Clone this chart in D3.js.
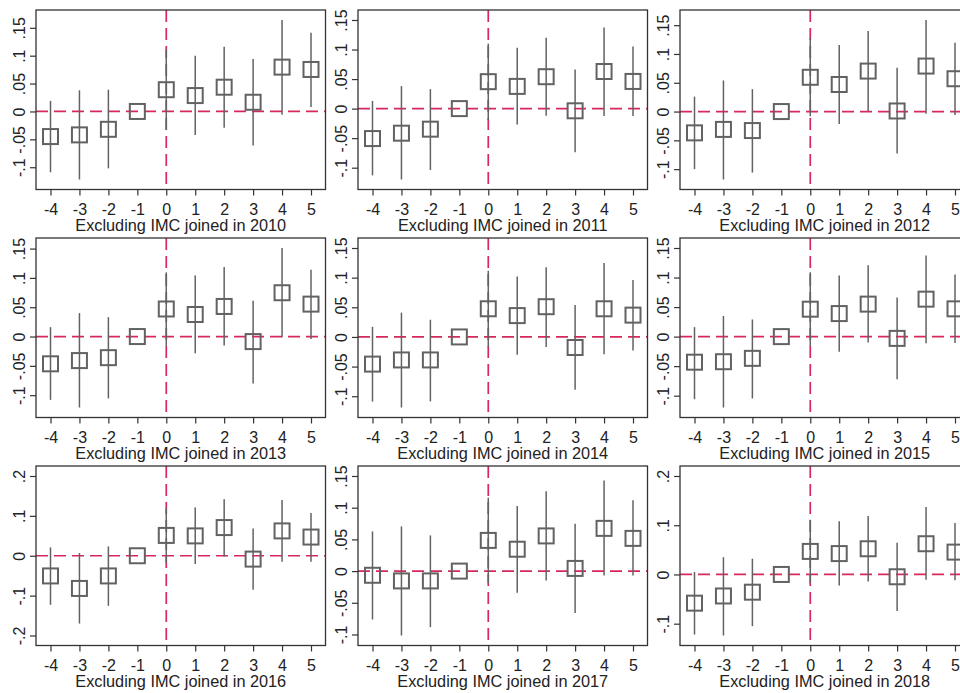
<!DOCTYPE html>
<html>
<head>
<meta charset="utf-8">
<script src="https://cdn.jsdelivr.net/npm/d3@7"></script>
<style>
body { margin: 0; background: #fff; }
svg { display: block; font-family: "Liberation Sans", Arial, sans-serif; }
</style>
</head>
<body>
<svg id="chart" width="960" height="693"></svg>
<script>
// event-time periods and the excluded cohort of each panel
const years = [2010, 2011, 2012, 2013, 2014, 2015, 2016, 2017, 2018]
const periods = [-4, -3, -2, -1, 0, 1, 2, 3, 4, 5]

// point estimates, one row per panel (period -1 is the reference = 0)
const coef = [
    [-0.045, -0.042, -0.032, 0, 0.039, 0.0285, 0.0435, 0.0165, 0.0795, 0.0753],
    [-0.0507, -0.0416, -0.0348, 0, 0.0456, 0.0376, 0.054, -0.0037, 0.0628, 0.046],
    [-0.037, -0.031, -0.033, 0, 0.0595, 0.047, 0.0703, 0.001, 0.079, 0.057],
    [-0.0465, -0.041, -0.036, 0, 0.047, 0.0376, 0.0513, -0.0086, 0.0747, 0.0553],
    [-0.0458, -0.0388, -0.0388, 0, 0.0475, 0.036, 0.051, -0.0178, 0.0475, 0.0368],
    [-0.0433, -0.0425, -0.0368, 0, 0.0464, 0.039, 0.055, -0.003, 0.0634, 0.047],
    [-0.0506, -0.082, -0.0506, 0, 0.051, 0.0498, 0.0707, -0.0084, 0.0623, 0.0469],
    [-0.0066, -0.0155, -0.0155, 0, 0.0484, 0.0345, 0.0555, 0.0042, 0.0674, 0.0516],
    [-0.0583, -0.0437, -0.036, 0, 0.0468, 0.0424, 0.0522, -0.0047, 0.0624, 0.0454]
]
// lower ends of the confidence intervals
const ciLow = [
    [-0.109, -0.122, -0.102, null, -0.033, -0.042, -0.029, -0.061, -0.006, 0.008],
    [-0.113, -0.120, -0.104, null, -0.019, -0.027, -0.012, -0.074, -0.0125, -0.0125],
    [-0.100, -0.118, -0.106, null, -0.008, -0.0216, 0.001, -0.073, -0.004, -0.006],
    [-0.108, -0.121, -0.1055, null, -0.016, -0.0285, -0.0154, -0.080, -0.001, -0.004],
    [-0.109, -0.119, -0.1087, null, -0.0165, -0.030, -0.017, -0.089, -0.029, -0.023],
    [-0.106, -0.120, -0.1047, null, -0.016, -0.0255, -0.010, -0.072, -0.0113, -0.011],
    [-0.123, -0.170, -0.1255, null, -0.017, -0.021, -0.002, -0.085, -0.015, -0.015],
    [-0.0763, -0.1016, -0.0884, null, -0.019, -0.034, -0.0147, -0.066, -0.0068, -0.0068],
    [-0.122, -0.124, -0.105, null, -0.017, -0.0224, -0.0142, -0.074, -0.011, -0.012]
]
// upper ends of the confidence intervals
const ciHigh = [
    [0.019, 0.038, 0.039, null, 0.111, 0.100, 0.116, 0.094, 0.164, 0.141],
    [0.013, 0.038, 0.033, null, 0.110, 0.103, 0.120, 0.066, 0.1375, 0.105],
    [0.026, 0.054, 0.039, null, 0.127, 0.1155, 0.140, 0.076, 0.159, 0.1197],
    [0.016, 0.040, 0.033, null, 0.1095, 0.104, 0.1186, 0.061, 0.151, 0.114],
    [0.017, 0.041, 0.029, null, 0.1115, 0.102, 0.1177, 0.054, 0.1245, 0.096],
    [0.016, 0.035, 0.029, null, 0.109, 0.1036, 0.1206, 0.066, 0.1375, 0.105],
    [0.021, 0.0067, 0.0234, null, 0.119, 0.121, 0.142, 0.0686, 0.140, 0.107],
    [0.0626, 0.0705, 0.0563, null, 0.1158, 0.1026, 0.1258, 0.0747, 0.143, 0.1116],
    [0.005, 0.035, 0.032, null, 0.111, 0.108, 0.1186, 0.0644, 0.137, 0.1044]
]

// y tick values per panel
const ticksA = [-0.1, -0.05, 0, 0.05, 0.1, 0.15]
const ticksB = [-0.2, -0.1, 0, 0.1, 0.2]
const ticksC = [-0.1, 0, 0.1, 0.2]
const yTicks = [ticksA, ticksA, ticksA, ticksA, ticksA, ticksA, ticksB, ticksA, ticksC]

// layout
const COL_X = [36, 358, 680]
const ROW_Y = [10, 238, 466]
const W = 289.5, H = 179.5
const PAD_X = 14.5, PAD_Y = 10
const RED = "#d6285a"
const GREY = "#626262"

// stata style labels: .15, -.05, 0
function fmt(v) {
    if (Math.abs(v) < 1e-9) return "0"
    return String(+v.toFixed(2)).replace("0.", ".")
}

let svg = d3.select("#chart")

years.forEach((yr, i) => {
    let left = COL_X[i % 3], top = ROW_Y[Math.floor(i / 3)]
    let g = svg.append("g").attr("transform", `translate(${left}, ${top})`)

    let x = d3.scaleLinear().domain([-4, 5]).range([PAD_X, W - PAD_X])
    let vals = coef[i].concat(ciLow[i], ciHigh[i], yTicks[i]).filter(v => v != null)
    let y = d3.scaleLinear().domain(d3.extent(vals)).range([H - PAD_Y, PAD_Y])

    // reference lines
    g.append("line")
        .attr("x1", 0).attr("x2", W)
        .attr("y1", y(0)).attr("y2", y(0))
        .attr("stroke", RED).attr("stroke-width", 1.7)
        .attr("stroke-dasharray", "12,6")
    g.append("line")
        .attr("x1", x(0)).attr("x2", x(0))
        .attr("y1", 0).attr("y2", H)
        .attr("stroke", RED).attr("stroke-width", 1.7)
        .attr("stroke-dasharray", "12,6")

    let pts = periods.map((p, j) => ({p: p, b: coef[i][j], lo: ciLow[i][j], hi: ciHigh[i][j]}))

    // confidence intervals
    g.selectAll(".ci")
        .data(pts.filter(d => d.lo != null))
        .enter().append("line")
        .attr("class", "ci")
        .attr("x1", d => x(d.p)).attr("x2", d => x(d.p))
        .attr("y1", d => y(d.lo)).attr("y2", d => y(d.hi))
        .attr("stroke", GREY).attr("stroke-width", 1.5)

    // hollow squares
    let s = 15
    g.selectAll(".pt")
        .data(pts)
        .enter().append("rect")
        .attr("class", "pt")
        .attr("x", d => x(d.p) - s / 2)
        .attr("y", d => y(d.b) - s / 2)
        .attr("width", s).attr("height", s)
        .attr("fill", "none")
        .attr("stroke", GREY).attr("stroke-width", 2)

    // axes
    let xAxis = g.append("g")
        .attr("transform", `translate(0, ${H})`)
        .call(d3.axisBottom(x).tickValues(periods).tickSize(6).tickPadding(8).tickFormat(d => d))
    xAxis.select(".domain").remove()

    let yAxis = g.append("g")
        .call(d3.axisLeft(y).tickValues(yTicks[i]).tickSize(6).tickFormat(fmt))
    yAxis.select(".domain").remove()
    yAxis.selectAll("text")
        .attr("transform", "rotate(-90)")
        .attr("x", 0).attr("y", -11).attr("dy", 0)
        .attr("text-anchor", "middle")

    g.selectAll(".tick line").attr("stroke", "#333").attr("stroke-width", 1.2)
    g.selectAll(".tick text").attr("fill", "#222").style("font-size", "16px")
        .style("font-family", "'Liberation Sans', Arial, sans-serif")

    // frame
    g.append("rect")
        .attr("width", W).attr("height", H)
        .attr("fill", "none").attr("stroke", "#333").attr("stroke-width", 1.3)

    g.append("text")
        .attr("x", W / 2).attr("y", H + 41.5)
        .attr("text-anchor", "middle")
        .style("font-size", "16.3px").attr("fill", "#222")
        .text(`Excluding IMC joined in ${yr}`)
})
</script>
</body>
</html>
